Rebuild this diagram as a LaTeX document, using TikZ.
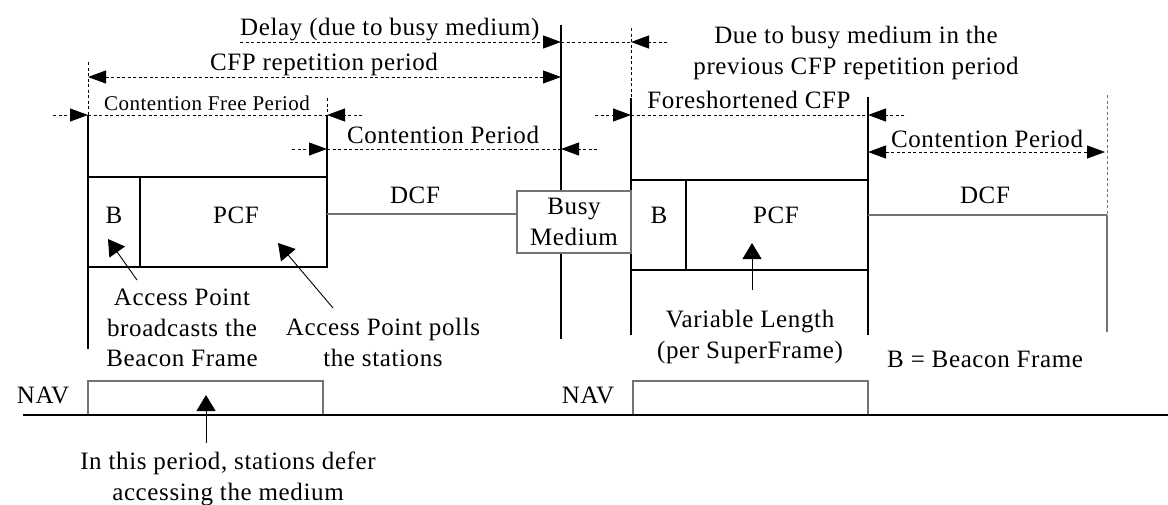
\documentclass[tikz,border=0pt]{standalone}
\usepackage{fontspec}
\setmainfont{Liberation Serif}[LetterSpace=2.5]
\usetikzlibrary{arrows.meta}

\begin{document}
\begin{tikzpicture}[x=1pt, y=-1pt,
    txt/.style={font=\fontsize{25}{30.5}\selectfont, inner sep=0pt},
    smalltxt/.style={font=\fontsize{21}{25}\selectfont, inner sep=0pt},
    vline/.style={line width=1.1pt},
    dimline/.style={line width=0.9pt, dash pattern=on 3pt off 2.5pt},
    tip/.style={-{Triangle[length=18pt,width=13pt]}},
    twotip/.style={{Triangle[length=18pt,width=13pt]}-{Triangle[length=18pt,width=13pt]}},
    pointer/.style={line width=0.9pt, -{Triangle[length=16pt,width=19pt]}},
    medline/.style={line width=1.3pt, draw=black!55},
    busybox/.style={draw=black!55, line width=1.3pt, fill=white, minimum width=114pt,
                    minimum height=62pt, inner sep=0pt, align=center,
                    font=\fontsize{25}{31}\selectfont}]
  \useasboundingbox (0,0) rectangle (1168,504);
  % Time boundaries
    \draw[dimline] (88,62) -- (88,115);
    \draw[vline]   (88,115) -- (88,349);
    \draw[dimline] (327,98) -- (327,115);
    \draw[vline]   (327,115) -- (327,177);
    \draw[vline]   (561,25) -- (561,339);
    \draw[dimline] (631,28) -- (631,98);
    \draw[vline]   (631,98) -- (631,335);
    \draw[vline]   (868,97) -- (868,335);
    \draw[dimline, draw=black!55] (1107,95) -- (1107,215);
    \draw[medline] (1107,215) -- (1107,332);
  % Frames
    \draw[vline] (88,177) rectangle (327,267);
    \draw[vline] (140,177) -- (140,267);
    \draw[vline] (631,180) rectangle (868,270);
    \draw[vline] (686,180) -- (686,270);
    \node[busybox] (busy) at (574,222) {Busy\\Medium};
    \draw[medline] (327,214) -- (327,214 -| busy.west);
    \draw[medline] (868,215) -- (1107,215);
  % Place nodes
    \node[txt, anchor=base west] (delay)  at (240,35)  {Delay (due to busy medium)};
    \node[txt, anchor=north, align=center] (due) at (856,26)
          {Due to busy medium in the\\previous CFP repetition period};
    \node[txt, anchor=base]      (rep)    at (324,70)  {CFP repetition period};
    \node[smalltxt, anchor=base] (cfp)    at (207,110) {Contention Free Period};
    \node[txt, anchor=base]      (cpone)  at (443,143) {Contention Period};
    \node[txt, anchor=base]      (fore)   at (749,108) {Foreshortened CFP};
    \node[txt, anchor=base]      (cptwo)  at (987,147) {Contention Period};
    \node[txt, anchor=base]      (dcfone) at (415,203) {DCF};
    \node[txt, anchor=base]      (dcftwo) at (985,203) {DCF};
    \node[txt, anchor=base]      (bone)   at (114,223) {B};
    \node[txt, anchor=base]      (pcfone) at (236,223) {PCF};
    \node[txt, anchor=base]      (btwo)   at (659,223) {B};
    \node[txt, anchor=base]      (pcftwo) at (776,223) {PCF};
    \node[txt, anchor=north, align=center] (beacon) at (182,289)
          {Access Point\\broadcasts the\\Beacon Frame};
    \node[txt, anchor=north, align=center] (polls)  at (383,318)
          {Access Point polls\\the stations};
    \node[txt, anchor=north, align=center] (varlen) at (750,310)
          {Variable Length\\(per SuperFrame)};
    \node[txt, anchor=base west] (legend) at (887,367) {B = Beacon Frame};
    \node[txt, anchor=base]      (navone) at (43,403)  {NAV};
    \node[txt, anchor=base]      (navtwo) at (588,403) {NAV};
    \node[txt, anchor=north, align=center] (defer)  at (228,452)
          {In this period, stations defer\\accessing the medium};
  % Create edges
  % Periods
    \draw[dimline, tip] (240,42) -- (561,42);
    \draw[dimline]      (561,42) -- (631,42);
    \draw[dimline, tip] (667,42) -- (631,42);
    \draw[dimline, twotip] (88,77) -- (561,77);
    \draw[dimline, tip] (53,115) -- (88,115);
    \draw[dimline]      (88,115) -- (327,115);
    \draw[dimline, tip] (362,115) -- (327,115);
    \draw[dimline, tip] (292,149) -- (327,149);
    \draw[dimline]      (327,149) -- (561,149);
    \draw[dimline, tip] (597,149) -- (561,149);
    \draw[dimline, tip] (595,115) -- (631,115);
    \draw[dimline]      (631,115) -- (868,115);
    \draw[dimline, tip] (904,115) -- (868,115);
    \draw[dimline, twotip] (868,152) -- (1105,152);
  % NAV
    \draw[medline] (88,415) -- (88,381) -- (323,381) -- (323,415);
    \draw[medline] (633,415) -- (633,381) -- (868,381) -- (868,415);
    \draw[vline] (23,415) -- (1168,415);
  % Pointers
    \draw[pointer] (137,280) -- (108,239);
    \draw[pointer] (333,308) -- (278,243);
    \draw[pointer] (752,290) -- (752,243);
    \draw[pointer] (206,443) -- (206,395);
\end{tikzpicture}
\end{document}
